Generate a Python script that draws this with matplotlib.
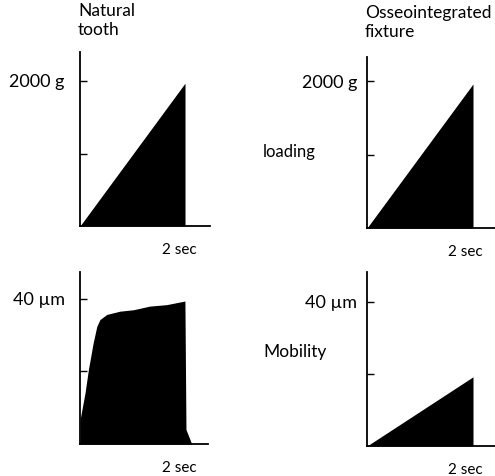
import matplotlib.pyplot as plt

# loading curves (force in g over time in sec)
load_t = [0.0, 2.0, 2.0]
tooth_load = [0, 1970, 0]
fixture_load = [0, 1960, 0]

# mobility curves (displacement in um over time in sec)
tooth_mob_t = [0.0, 0.0, 0.095, 0.16, 0.25, 0.32, 0.38, 0.51, 0.76, 1.02, 1.33, 1.65, 2.0, 2.02, 2.13]
tooth_mob = [0, 6.6, 14.0, 20.5, 27.8, 32.4, 34.3, 35.7, 36.6, 37.0, 38.0, 38.4, 39.4, 4.0, 0]
fixture_mob_t = [0.0, 2.0, 2.0]
fixture_mob = [0, 19.2, 0]

plt.rcParams['font.family'] = ['Lato', 'DejaVu Sans']

W, H = 495, 476
fig = plt.figure(figsize=(W / 100, H / 100), dpi=100)


def make_ax(left, top, right, bottom):
    # positions given in pixels of the output image
    ax = fig.add_axes([left / W, (H - bottom) / H, (right - left) / W, (bottom - top) / H])
    ax.spines['top'].set_visible(False)
    ax.spines['right'].set_visible(False)
    ax.spines['left'].set_linewidth(1.3)
    ax.spines['bottom'].set_linewidth(1.3)
    ax.tick_params(axis='y', direction='in', length=5, width=1, labelsize=13)
    ax.tick_params(axis='x', length=0, labelsize=11, pad=12)
    return ax


# panel 1: natural tooth loading
ax1 = make_ax(80, 52, 210, 226)
ax1.fill_between(load_t, tooth_load, color='black', lw=0)
ax1.set_xlim(0, 2.476)
ax1.set_ylim(0, 2400)
ax1.set_yticks([2000, 1000])
ax1.set_yticklabels(['2000 g', ''])
ax1.tick_params(axis='y', pad=11)
ax1.set_xticks([1.9])
ax1.set_xticklabels(['2 sec'])

# panel 2: fixture loading
ax2 = make_ax(367, 57, 495, 228)
ax2.fill_between(load_t, fixture_load, color='black', lw=0)
ax2.set_xlim(0, 2.415)
ax2.set_ylim(0, 2327)
ax2.set_yticks([2000, 1000])
ax2.set_yticklabels(['2000 g', ''])
ax2.tick_params(axis='y', pad=7)
ax2.set_xticks([1.85])
ax2.set_xticklabels(['2 sec'])

# panel 3: natural tooth mobility
ax3 = make_ax(80, 272, 208, 444)
ax3.fill_between(tooth_mob_t, tooth_mob, color='black', lw=0)
ax3.set_xlim(0, 2.44)
ax3.set_ylim(0, 47.4)
ax3.set_yticks([40, 20])
ax3.set_yticklabels(['40 \u00b5m', ''])
ax3.tick_params(axis='y', pad=11)
ax3.set_xticks([1.9])
ax3.set_xticklabels(['2 sec'])

# panel 4: fixture mobility
ax4 = make_ax(367, 272, 495, 446)
ax4.fill_between(fixture_mob_t, fixture_mob, color='black', lw=0)
ax4.set_xlim(0, 2.415)
ax4.set_ylim(0, 48.3)
ax4.set_yticks([40, 20])
ax4.set_yticklabels(['40 \u00b5m', ''])
ax4.tick_params(axis='y', pad=7)
ax4.set_xticks([1.85])
ax4.set_xticklabels(['2 sec'])

# titles and row labels
fig.text(78 / W, 1 - 3 / H, 'Natural\ntooth', fontsize=12.5, va='top', ha='left', linespacing=1.25)
fig.text(365 / W, 1 - 5 / H, 'Osseointegrated\nfixture', fontsize=12.5, va='top', ha='left', linespacing=1.25)
fig.text(263 / W, 1 - 152 / H, 'loading', fontsize=12, va='center', ha='left')
fig.text(263 / W, 1 - 352 / H, 'Mobility', fontsize=12.5, va='center', ha='left')

fig.savefig('out.png', dpi=100, facecolor='white')
